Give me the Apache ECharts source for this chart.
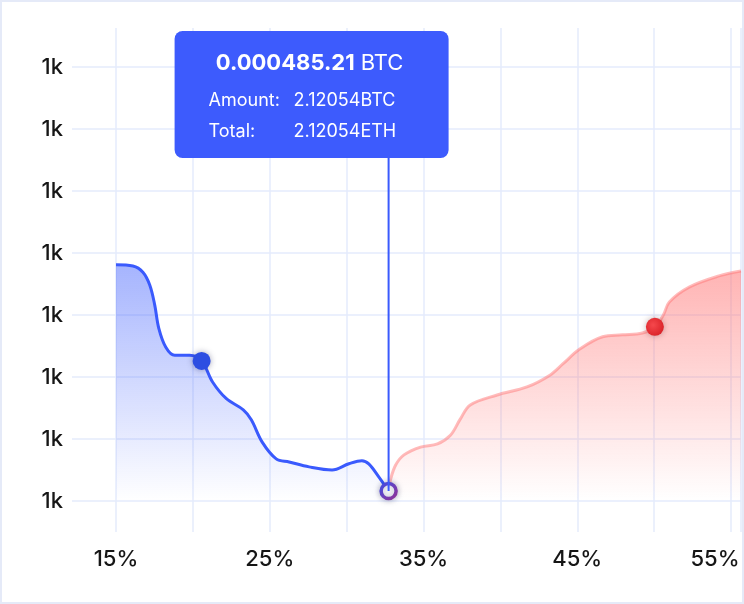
<!DOCTYPE html>
<html>
<head>
<meta charset="utf-8">
<script src="https://cdn.jsdelivr.net/npm/echarts@6/dist/echarts.min.js"></script>
<style>
body{margin:0;background:#fff}
#wrap{position:relative;width:744px;height:604px}
#main{width:744px;height:604px}
#frame{position:absolute;left:0;top:0;width:744px;height:604px;box-sizing:border-box;border:2px solid #e5eaf8;pointer-events:none}
</style>
</head>
<body>
<div id="wrap"><div id="main"></div><div id="frame"></div></div>
<script>
// depth data (x = price distance %, y = depth in grid steps)
var bidPct   = [15.00, 16.10, 16.75, 17.20, 17.52, 17.78, 18.24, 18.82, 19.79, 20.57, 21.28, 22.18, 23.28, 23.80, 24.51, 25.42, 26.26, 27.56, 29.05, 30.15, 30.99, 31.44, 32.09, 32.73];
var bidDepth = [3.81, 3.79, 3.69, 3.48, 3.16, 2.79, 2.48, 2.35, 2.35, 2.26, 1.92, 1.65, 1.47, 1.31, 0.95, 0.68, 0.63, 0.55, 0.50, 0.60, 0.65, 0.60, 0.39, 0.16];
var askPct   = [32.73, 32.86, 33.19, 33.71, 34.81, 35.91, 36.75, 37.39, 38.04, 39.79, 41.73, 43.22, 44.06, 45.16, 46.65, 47.94, 49.24, 50.05, 50.60, 50.99, 52.28, 54.22, 55.65];
var askDepth = [0.16, 0.35, 0.58, 0.74, 0.87, 0.92, 1.06, 1.32, 1.55, 1.71, 1.84, 2.03, 2.21, 2.45, 2.65, 2.68, 2.71, 2.81, 3.00, 3.21, 3.45, 3.63, 3.71];
var xLabelled = [15, 25, 35, 45, 55];
var yLabel = '1k';
var bidDot = 9;
var askDot = 17;
var tipPrice = '0.000485.21';
var tipUnit = 'BTC';
var tipAmount = '2.12054BTC';
var tipTotal = '2.12054ETH';

var gridColor = '#e5ebfc';
var font = 'Inter';
var labelColor = '#161616';

function pairs(xs, ys) {
    return xs.map(function (x, i) { return [x, ys[i]]; });
}

var myChart = echarts.init(document.getElementById('main'));
var last = bidPct.length - 1;

myChart.setOption({
    animation: false,
    grid: { left: 116, right: 0, top: 67, bottom: 103 },
    xAxis: [{
        type: 'value', min: 15, max: 55.65, interval: 5,
        axisLine: { show: false },
        axisTick: { show: true, length: 31, lineStyle: { color: gridColor, width: 1.5 } },
        splitLine: { show: true, lineStyle: { color: gridColor, width: 1.5 } },
        axisLabel: {
            margin: 47, color: labelColor, fontFamily: font, fontSize: 22, fontWeight: 500,
            formatter: function (v) {
                if (xLabelled.indexOf(v) < 0) return '';
                if (v === 55) return '{r|' + v + '%}';
                return v + '%';
            },
            rich: { r: { padding: [0, 32, 0, 0], color: labelColor, fontFamily: font, fontSize: 22, fontWeight: 500 } }
        }
    }, {
        type: 'value', position: 'top', min: 15, max: 55.65, interval: 5,
        axisLine: { show: false },
        axisTick: { show: true, length: 39, lineStyle: { color: gridColor, width: 1.5 } },
        splitLine: { show: false },
        axisLabel: { show: false }
    }],
    yAxis: {
        type: 'value', min: 0, max: 7, interval: 1,
        axisLine: { show: false },
        axisTick: { show: true, length: 44, lineStyle: { color: gridColor, width: 1.5 } },
        splitLine: { show: true, lineStyle: { color: gridColor, width: 1.5 } },
        axisLabel: {
            margin: 53, color: labelColor, fontFamily: font, fontSize: 22, fontWeight: 500,
            formatter: function () { return yLabel; }
        }
    },
    series: [{
        name: 'bids', type: 'line', smooth: 0.35, showSymbol: false,
        data: pairs(bidPct, bidDepth),
        lineStyle: { color: '#3a5afd', width: 3 },
        areaStyle: {
            color: new echarts.graphic.LinearGradient(0, 0, 0, 1, [
                { offset: 0, color: 'rgba(58,90,253,0.65)' },
                { offset: 1, color: 'rgba(58,90,253,0)' }
            ])
        },
        markPoint: {
            silent: true, label: { show: false },
            data: [{
                coord: [bidPct[bidDot], bidDepth[bidDot]], symbol: 'circle', symbolSize: 18,
                itemStyle: { color: '#2d4ee2', shadowBlur: 6, shadowColor: 'rgba(0,0,60,0.35)' }
            }, {
                coord: [bidPct[last], bidDepth[last]], symbol: 'circle', symbolSize: 15,
                itemStyle: {
                    color: '#fff', borderWidth: 3.5,
                    borderColor: new echarts.graphic.LinearGradient(0, 0, 1, 1, [
                        { offset: 0, color: '#3b4fe8' },
                        { offset: 1, color: '#9a2f8e' }
                    ]),
                    shadowBlur: 6, shadowColor: 'rgba(0,0,60,0.3)'
                }
            }]
        },
        z: 3
    }, {
        name: 'asks', type: 'line', smooth: 0.35, showSymbol: false, clip: false,
        data: pairs(askPct, askDepth),
        lineStyle: { color: 'rgba(255,120,120,0.5)', width: 3 },
        areaStyle: {
            color: new echarts.graphic.LinearGradient(0, 0, 0, 1, [
                { offset: 0, color: 'rgba(255,112,112,0.75)' },
                { offset: 1, color: 'rgba(255,112,112,0)' }
            ])
        },
        markPoint: {
            silent: true, label: { show: false },
            data: [{
                coord: [askPct[askDot], askDepth[askDot]], symbol: 'circle', symbolSize: 18,
                itemStyle: {
                    color: new echarts.graphic.RadialGradient(0.4, 0.4, 0.7, [
                        { offset: 0, color: '#f5484c' },
                        { offset: 1, color: '#d81e25' }
                    ]),
                    shadowBlur: 6, shadowColor: 'rgba(60,0,0,0.3)'
                }
            }]
        },
        z: 2
    }]
});

// tooltip box pinned to the last bid point
var p = myChart.convertToPixel({ xAxisIndex: 0, yAxisIndex: 0 }, [bidPct[last], bidDepth[last]]);
var bx = p[0] - 214, by = 31, bw = 274, bh = 127;
myChart.setOption({
    graphic: [{
        type: 'line', z: 5,
        shape: { x1: p[0], y1: by + bh, x2: p[0], y2: p[1] },
        style: { stroke: '#3a5afd', lineWidth: 2 }
    }, {
        type: 'rect', z: 10,
        shape: { x: bx, y: by, width: bw, height: bh, r: 8 },
        style: { fill: '#3d5bfd' }
    }, {
        type: 'text', z: 11, x: bx + bw / 2 - 2, y: by + 32,
        style: {
            text: '{b|' + tipPrice + '}{s| }{n|' + tipUnit + '}',
            align: 'center', verticalAlign: 'middle',
            rich: {
                b: { fill: '#fff', fontFamily: font, fontSize: 22, fontWeight: 'bold' },
                s: { fontSize: 22, width: 6 },
                n: { fill: '#fff', fontFamily: font, fontSize: 22 }
            }
        }
    }, {
        type: 'text', z: 11, x: bx + 34, y: by + 70,
        style: { text: 'Amount:', fill: '#fff', fontFamily: font, fontSize: 18, verticalAlign: 'middle' }
    }, {
        type: 'text', z: 11, x: bx + 119, y: by + 70,
        style: { text: tipAmount, fill: '#fff', fontFamily: font, fontSize: 18, verticalAlign: 'middle' }
    }, {
        type: 'text', z: 11, x: bx + 34, y: by + 101,
        style: { text: 'Total:', fill: '#fff', fontFamily: font, fontSize: 18, verticalAlign: 'middle' }
    }, {
        type: 'text', z: 11, x: bx + 119, y: by + 101,
        style: { text: tipTotal, fill: '#fff', fontFamily: font, fontSize: 18, verticalAlign: 'middle' }
    }]
});
</script>
</body>
</html>
